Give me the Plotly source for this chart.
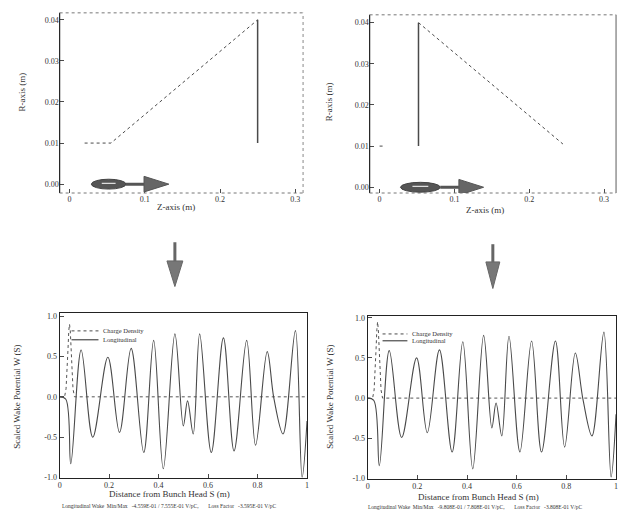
import plotly.graph_objects as go

W, H = 626, 517

# ---------------- data ----------------
# Geometry (left): pipe + taper + iris
geoL_taper_z = [0.02, 0.055, 0.25]
geoL_taper_r = [0.01, 0.01, 0.04]
geoL_wall_z = [0.25, 0.25]
geoL_wall_r = [0.04, 0.01]
# Geometry (right)
geoR_wall_z = [0.052, 0.052]
geoR_wall_r = [0.01, 0.04]
geoR_taper_z = [0.052, 0.245]
geoR_taper_r = [0.04, 0.0105]
geoR_pipe_z = [0.0, 0.008]
geoR_pipe_r = [0.01, 0.01]

top_xticks = [0, 0.1, 0.2, 0.3]
top_xtext = ["0", "0.1", "0.2", "0.3"]
top_yticks = [0.0, 0.01, 0.02, 0.03, 0.04]
top_ytext = ["0.00", "0.01", "0.02", "0.03", "0.04"]

bot_xticks = [0, 0.2, 0.4, 0.6, 0.8, 1.0]
bot_xtext = ["0", "0.2", "0.4", "0.6", "0.8", "1"]
bot_yticks = [-1.0, -0.5, 0.0, 0.5, 1.0]
bot_ytext = ["-1.0", "-0.5", "0.0", "0.5", "1.0"]

# Charge density (dotted)
chargeL_s = [0, 0.02, 0.026, 0.03, 0.034, 0.037, 0.04, 0.043, 0.046, 0.05, 0.054, 0.06, 1.0]
chargeL_v = [0, 0.0, 0.1, 0.3, 0.6, 0.82, 0.9, 0.82, 0.6, 0.3, 0.1, 0.0, 0.0]
chargeR_s = [0, 0.02, 0.026, 0.03, 0.034, 0.037, 0.04, 0.043, 0.046, 0.05, 0.054, 0.06, 1.0]
chargeR_v = [0, 0.0, 0.1, 0.3, 0.62, 0.85, 0.95, 0.85, 0.62, 0.3, 0.1, 0.0, 0.0]

# Longitudinal wake (left)
wakeL_s = [0, 0.025, 0.045, 0.087, 0.134, 0.195, 0.242, 0.289, 0.34, 0.38, 0.419,
           0.466, 0.50, 0.517, 0.54, 0.566, 0.613, 0.662, 0.705, 0.756, 0.792,
           0.839, 0.866, 0.903, 0.953, 0.98, 1.0]
wakeL_v = [0, -0.03, -0.83, 0.58, -0.50, 0.49, -0.44, 0.60, -0.69, 0.70, -0.89,
           0.78, -0.36, -0.05, -0.46, 0.78, -0.69, 0.73, -0.67, 0.70, -0.60,
           0.56, -0.02, -0.46, 0.82, -1.0, -0.3]
# Longitudinal wake (right)
wakeR_s = [0, 0.025, 0.047, 0.087, 0.137, 0.197, 0.24, 0.289, 0.34, 0.383, 0.423,
           0.467, 0.50, 0.517, 0.54, 0.569, 0.613, 0.66, 0.70, 0.756, 0.793,
           0.836, 0.867, 0.903, 0.951, 0.98, 1.0]
wakeR_v = [0, -0.03, -0.84, 0.59, -0.49, 0.50, -0.43, 0.60, -0.67, 0.70, -0.88,
           0.78, -0.37, -0.06, -0.47, 0.77, -0.67, 0.71, -0.67, 0.71, -0.61,
           0.56, -0.02, -0.47, 0.82, -0.98, -0.2]

footerL = "Longitudinal Wake  Min/Max   -4.559E-01 / 7.555E-01 V/pC,       Loss Factor   -3.595E-01 V/pC"
footerR = "Longitudinal Wake  Min/Max   -9.808E-01 / 7.808E-01 V/pC,       Loss Factor   -3.808E-01 V/pC"

# ---------------- figure ----------------
FONT = "Liberation Serif"
INK = "#333333"
LINE = "#4a4a4a"


def px(x):
    return x / W


def py(y):
    return 1 - y / H


fig = go.Figure()

# top-left geometry
fig.add_trace(go.Scatter(x=geoL_taper_z, y=geoL_taper_r, mode="lines", xaxis="x", yaxis="y",
                         line=dict(color=LINE, width=1, dash="dot"), showlegend=False))
fig.add_trace(go.Scatter(x=geoL_wall_z, y=geoL_wall_r, mode="lines", xaxis="x", yaxis="y",
                         line=dict(color=LINE, width=1.5), showlegend=False))
# top-right geometry
fig.add_trace(go.Scatter(x=geoR_wall_z, y=geoR_wall_r, mode="lines", xaxis="x2", yaxis="y2",
                         line=dict(color=LINE, width=1.5), showlegend=False))
fig.add_trace(go.Scatter(x=geoR_taper_z, y=geoR_taper_r, mode="lines", xaxis="x2", yaxis="y2",
                         line=dict(color=LINE, width=1, dash="dot"), showlegend=False))
fig.add_trace(go.Scatter(x=geoR_pipe_z, y=geoR_pipe_r, mode="lines", xaxis="x2", yaxis="y2",
                         line=dict(color=LINE, width=1, dash="dot"), showlegend=False))

# bottom-left wake
fig.add_trace(go.Scatter(x=chargeL_s, y=chargeL_v, mode="lines", xaxis="x3", yaxis="y3",
                         line=dict(color="#555555", width=1, dash="dot"), showlegend=False))
fig.add_trace(go.Scatter(x=wakeL_s, y=wakeL_v, mode="lines", xaxis="x3", yaxis="y3",
                         line=dict(color=LINE, width=1.1, shape="spline", smoothing=1.0), showlegend=False))
# bottom-right wake
fig.add_trace(go.Scatter(x=chargeR_s, y=chargeR_v, mode="lines", xaxis="x4", yaxis="y4",
                         line=dict(color="#555555", width=1, dash="dot"), showlegend=False))
fig.add_trace(go.Scatter(x=wakeR_s, y=wakeR_v, mode="lines", xaxis="x4", yaxis="y4",
                         line=dict(color=LINE, width=1.1, shape="spline", smoothing=1.0), showlegend=False))

tickfont = dict(family=FONT, size=8, color=INK)

common_top = dict(showgrid=False, zeroline=False, ticks="inside", ticklen=4, tickcolor=LINE,
                  tickfont=tickfont, showline=False)
common_bot = dict(showgrid=False, zeroline=False, ticks="inside", ticklen=4, tickcolor=LINE,
                  tickfont=dict(family=FONT, size=8, color=INK), showline=True, linecolor="#222222",
                  linewidth=1, mirror=True)

fig.update_layout(
    width=W, height=H, margin=dict(l=0, r=0, t=0, b=0),
    paper_bgcolor="white", plot_bgcolor="white", showlegend=False,
    font=dict(family=FONT, color=INK),
    xaxis=dict(domain=[px(58), px(303)], range=[-0.0132, 0.3104], anchor="y",
               tickvals=top_xticks, ticktext=top_xtext, **common_top),
    yaxis=dict(domain=[py(193), py(10)], range=[-0.00216, 0.0417], anchor="x",
               tickvals=top_yticks, ticktext=top_ytext, **common_top),
    xaxis2=dict(domain=[px(370), px(618)], range=[-0.0133, 0.316], anchor="y2",
                tickvals=top_xticks, ticktext=top_xtext, **common_top),
    yaxis2=dict(domain=[py(193), py(12)], range=[-0.0014, 0.0419], anchor="x2",
                tickvals=top_yticks, ticktext=top_ytext, **common_top),
    xaxis3=dict(domain=[px(58), px(307)], range=[0, 1], anchor="y3",
                tickvals=bot_xticks, ticktext=bot_xtext, **common_bot),
    yaxis3=dict(domain=[py(482), py(315)], range=[-1.0, 1.037], anchor="x3",
                tickvals=bot_yticks, ticktext=bot_ytext, **common_bot),
    xaxis4=dict(domain=[px(368), px(618)], range=[0, 1], anchor="y4",
                tickvals=bot_xticks, ticktext=bot_xtext, **common_bot),
    yaxis4=dict(domain=[py(483), py(318)], range=[-1.0, 1.02], anchor="x4",
                tickvals=bot_yticks, ticktext=bot_ytext, **common_bot),
)

shapes = []
# frames of top plots
for xr, yr in (("x domain", "y domain"), ("x2 domain", "y2 domain")):
    shapes.append(dict(type="line", xref=xr, yref=yr, x0=0, x1=0, y0=0, y1=1,
                       line=dict(color="#222222", width=1.2)))
    shapes.append(dict(type="line", xref=xr, yref=yr, x0=0, x1=1, y0=0, y1=0,
                       line=dict(color="#777777", width=1, dash="dot")))
    shapes.append(dict(type="line", xref=xr, yref=yr, x0=0, x1=1, y0=1, y1=1,
                       line=dict(color="#777777", width=1, dash="dot")))
shapes.append(dict(type="line", xref="x domain", yref="y domain", x0=1, x1=1, y0=0, y1=1,
                   line=dict(color="#888888", width=1, dash="dot")))
shapes.append(dict(type="line", xref="x2 domain", yref="y2 domain", x0=1, x1=1, y0=0, y1=1,
                   line=dict(color="#777777", width=1.2)))

# beam markers (ellipse + arrow) on top plots
for xa, ya, c, e0, e1, l1, t1, dy in (("x", "y", 0.0, 0.029, 0.075, 0.099, 0.132, 0.0012),
                                      ("x2", "y2", 0.0, 0.028, 0.081, 0.106, 0.139, 0.0012)):
    shapes.append(dict(type="circle", xref=xa, yref=ya, x0=e0, x1=e1, y0=c - dy, y1=c + dy,
                       fillcolor="#555555", line=dict(color="#444444", width=1)))
    shapes.append(dict(type="line", xref=xa, yref=ya, x0=e0 + 0.3 * (e1 - e0), x1=e0 + 0.7 * (e1 - e0),
                       y0=c + 0.0002, y1=c + 0.0002, line=dict(color="#dddddd", width=1.2)))
    shapes.append(dict(type="line", xref=xa, yref=ya, x0=e1, x1=l1, y0=c, y1=c,
                       line=dict(color="#555555", width=3)))
    shapes.append(dict(type="path", xref=xa, yref=ya,
                       path=f"M {l1},{c + 0.0019} L {t1},{c} L {l1},{c - 0.0019} Z",
                       fillcolor="#666666", line=dict(color="#555555", width=1)))

# down arrows between rows
for x, y0, y1, y2, hw in ((174, 243, 262, 288, 8), (494, 245, 263, 290, 7)):
    shapes.append(dict(type="line", xref="paper", yref="paper", x0=px(x), x1=px(x), y0=py(y0), y1=py(y1),
                       line=dict(color="#666666", width=3)))
    shapes.append(dict(type="path", xref="paper", yref="paper",
                       path=f"M {px(x - hw)},{py(y1)} L {px(x + hw)},{py(y1)} L {px(x)},{py(y2)} Z",
                       fillcolor="#777777", line=dict(color="#666666", width=1)))

# legends of bottom plots
for xr, yr, lx0, lx1, tx, y1, y2 in (("x3 domain", "y3 domain", 0.048, 0.157, 0.169, 0.892, 0.838),
                                     ("x4 domain", "y4 domain", 0.06, 0.16, 0.172, 0.89, 0.848)):
    shapes.append(dict(type="line", xref=xr, yref=yr, x0=lx0, x1=lx1, y0=y1, y1=y1,
                       line=dict(color=LINE, width=1, dash="dot")))
    shapes.append(dict(type="line", xref=xr, yref=yr, x0=lx0, x1=lx1, y0=y2, y1=y2,
                       line=dict(color=LINE, width=1.2)))

fig.update_layout(shapes=shapes)

ann = []


def txt(x, y, s, size=9, angle=0, xanchor="center", xref="paper", yref="paper"):
    ann.append(dict(x=x, y=y, xref=xref, yref=yref, text=s, showarrow=False, textangle=angle,
                    xanchor=xanchor, yanchor="middle", font=dict(family=FONT, size=size, color=INK)))


txt(px(175), py(207), "Z-axis (m)")
txt(px(20), py(90), "R-axis (m)", angle=-90)
txt(px(486), py(210), "Z-axis (m)")
txt(px(330), py(100), "R-axis (m)", angle=-90)

txt(px(169), py(499), "Distance from Bunch Head S (m)", size=9)
txt(px(480), py(502), "Distance from Bunch Head S (m)", size=9)
txt(px(15), py(400), "Scaled Wake Potential W (S)", size=9, angle=-90)
txt(px(330), py(400), "Scaled Wake Potential W (S)", size=9, angle=-90)

txt(px(58), py(511), footerL, size=5.5, xanchor="left")
txt(px(366), py(512), footerR, size=5.5, xanchor="left")

for xr, yr, tx, y1, y2 in (("x3 domain", "y3 domain", 0.169, 0.892, 0.838),
                           ("x4 domain", "y4 domain", 0.172, 0.89, 0.848)):
    txt(tx, y1, "Charge Density", size=6.5, xanchor="left", xref=xr, yref=yr)
    txt(tx, y2, "Longitudinal", size=6.5, xanchor="left", xref=xr, yref=yr)

fig.update_layout(annotations=ann)

fig.write_html("out.html")
